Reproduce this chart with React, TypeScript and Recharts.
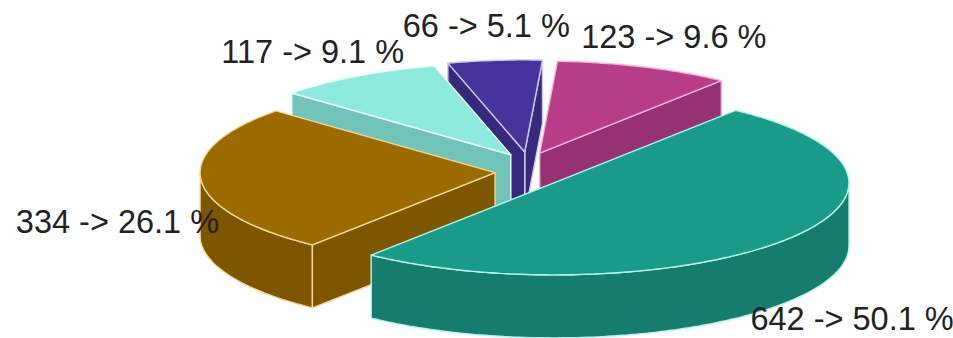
import { Cell, Pie, PieChart } from "recharts";

// slices in counter-clockwise order starting from the upper-right cut
const NAMES = ["magenta", "purple", "cyan", "brown", "teal"];
const VALUES = [123, 66, 117, 334, 642];
const TOP_COLORS = ["#b83c88", "#46349a", "#8deadd", "#9b6b00", "#1a9a89"];
const SIDE_COLORS = ["#963270", "#372a7c", "#72c3b8", "#7d5600", "#167c6e"];
const EDGE_COLORS = ["#f6b3dc", "#cfc6f5", "#e5fffb", "#f3d79c", "#b4f5ee"];

const data = NAMES.map((name, i) => ({ name, value: VALUES[i] }));

const W = 953;
const H = 338;
const FLAT = 0.312; // ry / rx of the tilted pie
const DEPTH = 63;
const EXPLODE = 33;
const EXPLODE_Y = 0.58;

const rad = (d: number) => (d * Math.PI) / 180;

function pt(ox: number, oy: number, r: number, a: number, dy = 0): [number, number] {
  return [ox + r * Math.cos(rad(a)), oy - r * FLAT * Math.sin(rad(a)) + dy];
}

function arc(ox: number, oy: number, r: number, a1: number, a2: number, dy = 0) {
  const n = Math.max(2, Math.ceil(Math.abs(a2 - a1)));
  const out: [number, number][] = [];
  for (let i = 0; i <= n; i++) out.push(pt(ox, oy, r, a1 + ((a2 - a1) * i) / n, dy));
  return out;
}

const toPath = (pts: [number, number][]) =>
  "M" + pts.map(([x, y]) => `${x.toFixed(1)},${y.toFixed(1)}`).join("L") + "Z";

function Slice3D(props: any) {
  const { cx, cy, outerRadius: r, startAngle, endAngle, midAngle, index } = props;
  const a1 = Math.min(startAngle, endAngle);
  const a2 = Math.max(startAngle, endAngle);
  const ox = cx + EXPLODE * Math.cos(rad(midAngle));
  const oy = cy - EXPLODE * EXPLODE_Y * Math.sin(rad(midAngle));
  const side = SIDE_COLORS[index];
  const edge = EDGE_COLORS[index];

  const walls: string[] = [];
  for (const [lo, hi] of [[-180, 0], [180, 360], [540, 720]]) {
    const b1 = Math.max(a1, lo);
    const b2 = Math.min(a2, hi);
    if (b2 > b1) walls.push(toPath([...arc(ox, oy, r, b1, b2), ...arc(ox, oy, r, b2, b1, DEPTH)]));
  }
  const face = (a: number) => {
    const [x, y] = pt(ox, oy, r, a);
    return toPath([[ox, oy], [x, y], [x, y + DEPTH], [ox, oy + DEPTH]]);
  };
  const faces: string[] = [];
  if (Math.cos(rad(a1)) > 0) faces.push(face(a1));
  if (Math.cos(rad(a2)) < 0) faces.push(face(a2));
  const top = toPath([[ox, oy], ...arc(ox, oy, r, a1, a2)]);

  return (
    <g strokeWidth={1.4} strokeLinejoin="round" stroke={edge}>
      {walls.map((d, i) => (
        <path key={"w" + i} d={d} fill={side} />
      ))}
      {faces.map((d, i) => (
        <path key={"f" + i} d={d} fill={side} />
      ))}
      <path d={top} fill={TOP_COLORS[index]} />
    </g>
  );
}

function SliceLabel(props: any) {
  const { cx, cy, midAngle, value, percent } = props;
  const s = Math.sin(rad(midAngle));
  const x = cx + 412 * Math.cos(rad(midAngle));
  const y = cy - 146 * s + 36 * (1 - s);
  return (
    <text
      x={x}
      y={y}
      textAnchor="middle"
      dominantBaseline="central"
      fill="#222"
      stroke="none"
      fontSize={32.5}
      fontFamily="'Liberation Sans', Arial, sans-serif"
    >
      {`${value} -> ${(percent * 100).toFixed(1)} %`}
    </text>
  );
}

export default function App() {
  return (
    <div style={{ position: "absolute", left: 0, top: 0, background: "#fff" }}>
      <PieChart width={W} height={H} margin={{ top: 0, right: 0, bottom: 0, left: 0 }}>
        <Pie
          data={data}
          dataKey="value"
          nameKey="name"
          cx={528}
          cy={171}
          outerRadius={295}
          startAngle={52}
          endAngle={412}
          stroke="none"
          label={Slice3D}
          labelLine={false}
          isAnimationActive={false}
        >
          {data.map((_, i) => (
            <Cell key={i} fill="none" />
          ))}
        </Pie>
        <Pie
          data={data}
          dataKey="value"
          nameKey="name"
          cx={528}
          cy={171}
          outerRadius={295}
          startAngle={52}
          endAngle={412}
          stroke="none"
          fill="none"
          label={SliceLabel}
          labelLine={false}
          isAnimationActive={false}
        />
      </PieChart>
    </div>
  );
}
